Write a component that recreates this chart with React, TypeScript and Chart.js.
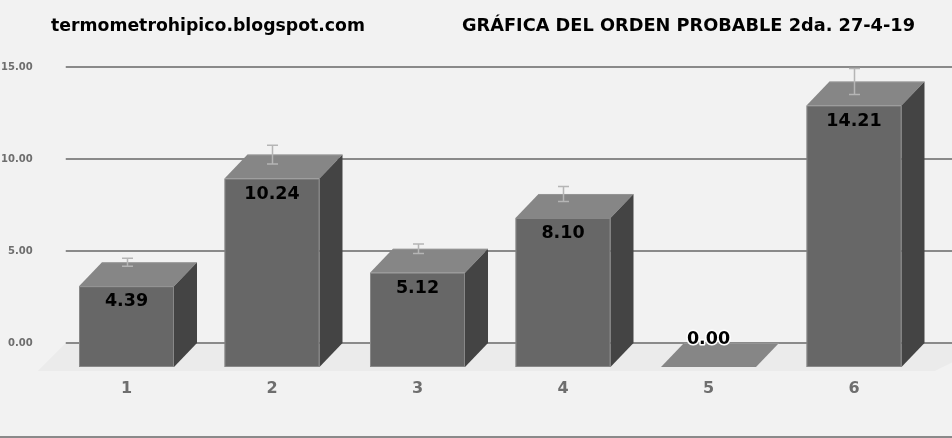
import React, { useEffect, useRef } from "react";
import { Chart, registerables } from "chart.js";

Chart.register(...registerables);

const categories = ["1", "2", "3", "4", "5", "6"];
const values = [4.39, 10.24, 5.12, 8.1, 0.0, 14.21];
const errors = [0.22, 0.51, 0.26, 0.41, 0, 0.71];
const yTickValues = [0, 5, 10, 15];
const leftTitle = "termometrohipico.blogspot.com";
const rightTitle = "GRÁFICA DEL ORDEN PROBABLE 2da. 27-4-19";

const DX = 23;
const DY = 24;

const bar3d = {
  id: "bar3d",
  beforeDatasetsDraw(chart: any) {
    const { ctx, chartArea, scales } = chart;
    const y = scales.y;
    const zeroY = y.getPixelForValue(0);
    ctx.save();
    // floor
    ctx.fillStyle = "#ebebeb";
    ctx.beginPath();
    ctx.moveTo(chartArea.left - 16, zeroY + 28);
    ctx.lineTo(chartArea.left + 12, zeroY);
    ctx.lineTo(chart.width + 40, zeroY);
    ctx.lineTo(chartArea.right + 8, zeroY + 28);
    ctx.closePath();
    ctx.fill();
    // grid lines
    ctx.strokeStyle = "#8a8a8a";
    ctx.lineWidth = 2;
    yTickValues.forEach((v) => {
      const py = Math.round(y.getPixelForValue(v));
      ctx.beginPath();
      ctx.moveTo(chartArea.left + 12, py);
      ctx.lineTo(chart.width, py);
      ctx.stroke();
    });
    ctx.restore();
  },
  afterDatasetsDraw(chart: any) {
    const { ctx, scales } = chart;
    const y = scales.y;
    const meta = chart.getDatasetMeta(0);
    ctx.save();
    meta.data.forEach((el: any) => {
      const p = el.getProps(["x", "y", "base", "width"], true);
      const w = p.width;
      const fx = p.x - w / 2;
      const backTop = p.y;
      const base = p.base;
      const frontTop = backTop + DY;
      const frontBottom = base + DY;
      // front
      ctx.fillStyle = "#676767";
      ctx.fillRect(fx, frontTop, w, frontBottom - frontTop);
      // top
      ctx.fillStyle = "#868686";
      ctx.beginPath();
      ctx.moveTo(fx, frontTop);
      ctx.lineTo(fx + DX, backTop);
      ctx.lineTo(fx + w + DX, backTop);
      ctx.lineTo(fx + w, frontTop);
      ctx.closePath();
      ctx.fill();
      // side
      ctx.fillStyle = "#444444";
      ctx.beginPath();
      ctx.moveTo(fx + w, frontTop);
      ctx.lineTo(fx + w + DX, backTop);
      ctx.lineTo(fx + w + DX, base);
      ctx.lineTo(fx + w, frontBottom);
      ctx.closePath();
      ctx.fill();
      // subtle edges
      ctx.strokeStyle = "rgba(160,160,160,0.6)";
      ctx.lineWidth = 1;
      if (frontBottom - frontTop > 1) {
        ctx.strokeRect(fx + 0.5, frontTop + 0.5, w - 1, frontBottom - frontTop - 1);
      }
      ctx.beginPath();
      ctx.moveTo(fx + DX, backTop + 0.5);
      ctx.lineTo(fx + w + DX, backTop + 0.5);
      ctx.stroke();
    });
    // error bars
    ctx.strokeStyle = "#b5b5b5";
    ctx.lineWidth = 1.5;
    meta.data.forEach((el: any, i: number) => {
      const e = errors[i];
      if (!e) return;
      const x = Math.round(el.x) + 0.5;
      const t = y.getPixelForValue(values[i] + e);
      const b = y.getPixelForValue(values[i] - e);
      ctx.beginPath();
      ctx.moveTo(x, t);
      ctx.lineTo(x, b);
      ctx.moveTo(x - 5.5, t);
      ctx.lineTo(x + 5.5, t);
      ctx.moveTo(x - 5.5, b);
      ctx.lineTo(x + 5.5, b);
      ctx.stroke();
    });
    // value labels
    ctx.font = 'bold 17.5px "DejaVu Sans"';
    ctx.textAlign = "center";
    ctx.textBaseline = "middle";
    meta.data.forEach((el: any, i: number) => {
      const txt = values[i].toFixed(2);
      const frontTop = el.y + DY;
      const h = el.base - el.y;
      if (h > 30) {
        ctx.fillStyle = "#000";
        ctx.fillText(txt, el.x, frontTop + 15.5);
      } else {
        const ly = el.y - 4;
        ctx.strokeStyle = "#ffffff";
        ctx.lineWidth = 3;
        ctx.lineJoin = "round";
        ctx.strokeText(txt, el.x, ly);
        ctx.fillStyle = "#000";
        ctx.fillText(txt, el.x, ly);
      }
    });
    ctx.restore();
  },
  afterDraw(chart: any) {
    const { ctx } = chart;
    ctx.save();
    ctx.fillStyle = "#000";
    ctx.font = 'bold 18px "DejaVu Sans"';
    ctx.textBaseline = "alphabetic";
    ctx.textAlign = "left";
    const drawFit = (txt: string, x: number, w: number) => {
      const m = ctx.measureText(txt).width;
      ctx.save();
      ctx.translate(x, 30.5);
      ctx.scale(w / m, 1);
      ctx.fillText(txt, 0, 0);
      ctx.restore();
    };
    drawFit(leftTitle, 51, 314);
    drawFit(rightTitle, 462, 453);
    // bottom border
    ctx.fillStyle = "#8a8a8a";
    ctx.fillRect(0, 436, chart.width, 2);
    ctx.restore();
  },
};

export default function App() {
  const ref = useRef<HTMLCanvasElement | null>(null);
  useEffect(() => {
    if (!ref.current) return;
    const chart = new Chart(ref.current, {
      type: "bar",
      data: {
        labels: categories,
        datasets: [
          {
            data: values,
            backgroundColor: "rgba(0,0,0,0)",
            borderWidth: 0,
            categoryPercentage: 1,
            barPercentage: 0.653,
          },
        ],
      },
      options: {
        animation: false,
        responsive: true,
        maintainAspectRatio: false,
        layout: { padding: { top: 67, right: 25.25, left: 0, bottom: 0 } },
        plugins: {
          legend: { display: false },
          tooltip: { enabled: false },
        },
        scales: {
          x: {
            grid: { display: false, drawTicks: false },
            border: { display: false },
            ticks: {
              font: { family: "DejaVu Sans", weight: "bold", size: 16 },
              color: "#6e6e6e",
              padding: 36,
            },
            afterFit: (s: any) => {
              s.height = 95;
            },
          },
          y: {
            min: 0,
            max: 15,
            grid: { display: false, drawTicks: false },
            border: { display: false },
            ticks: {
              stepSize: 5,
              callback: (v: any) => Number(v).toFixed(2),
              font: { family: "DejaVu Sans", weight: "bold", size: 10 },
              color: "#6e6e6e",
              padding: 21,
            },
            afterFit: (s: any) => {
              s.width = 53.75;
            },
          },
        },
      } as any,
      plugins: [bar3d],
    });
    return () => chart.destroy();
  }, []);
  return (
    <div
      style={{
        position: "fixed",
        left: 0,
        top: 0,
        width: 952,
        height: 438,
        background: "#f2f2f2",
      }}
    >
      <canvas ref={ref} />
    </div>
  );
}
